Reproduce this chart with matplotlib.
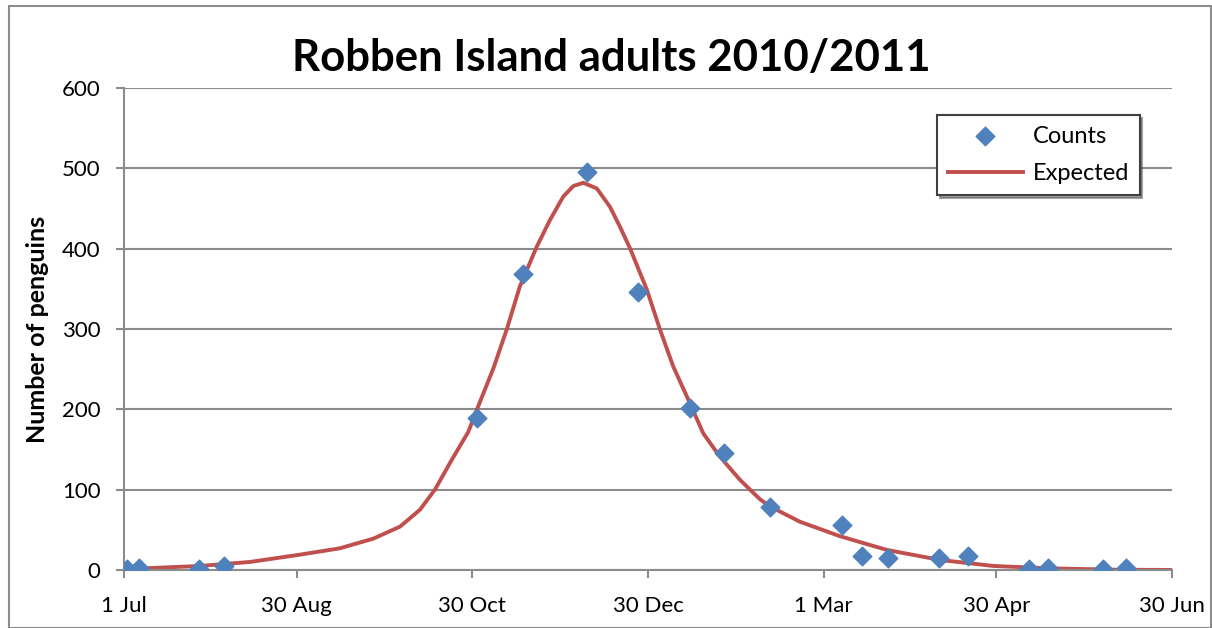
import numpy as np
import matplotlib
matplotlib.use('Agg')
import matplotlib.pyplot as plt
from matplotlib.patches import Rectangle

plt.rcParams['font.family'] = ['Lato', 'DejaVu Sans']

# day of season, counted from 1 Jul 2010
count_day = [0.9, 5.2, 26, 34.8, 122.7, 138.7, 160.7, 178.6, 196.6, 208.4,
             224.4, 249.3, 256.5, 265.5, 283.2, 293.3, 314.3, 321, 340.2, 348]
counts = [1, 3, 1, 5, 189, 369, 496, 346, 202, 146,
          79, 56, 17, 15, 15, 17, 1, 3, 1, 2]

# expected curve
exp_day = [0, 6.7, 26.4, 43.8, 61, 75, 86.6, 95.9, 102.8, 108, 113.5,
           119.6, 122.5, 128.3, 132.9, 137.5, 143.3, 148, 152.6, 156.1,
           159.5, 164.2, 168.8, 172.3, 175.8, 181.6, 186.2, 190.8, 196,
           201.2, 207, 214, 220.9, 224.4, 234.8, 248.7, 264.9, 283.4, 302,
           321.6, 344.8, 364]
expected = [1, 2, 5, 10, 19, 27, 39, 54, 75, 100, 135,
            172, 199, 251, 299, 353, 402, 436, 465, 478,
            482, 475, 452, 427, 400, 349, 299, 253, 212,
            170, 141, 112, 88, 79, 60, 42, 25, 12.5, 5,
            2, 0.3, 0]

tick_days = [0, 60, 121, 182, 243, 303, 364]
tick_labels = ['1 Jul', '30 Aug', '30 Oct', '30 Dec', '1 Mar', '30 Apr', '30 Jun']

fig = plt.figure(figsize=(12.12, 6.28), dpi=100)
ax = fig.add_axes([0.1023, 0.0924, 0.8647, 0.7675])

# outer chart border
fig.patches.append(Rectangle((9/1212, 0), 1 - 10/1212, 1 - 6/628, transform=fig.transFigure,
                             fill=False, edgecolor='#8c8c8c', linewidth=1.5))

ax.plot(exp_day, expected, color='#c0504d', linewidth=2.8, label='Expected', zorder=2,
        solid_joinstyle='round')
ax.scatter(count_day, counts, marker='D', s=90, color='#4f81bd', label='Counts', zorder=3)

ax.set_xlim(0, 364)
ax.set_ylim(0, 600)
ax.set_xticks(tick_days)
ax.set_xticklabels(tick_labels)
ax.set_yticks(range(0, 601, 100))
ax.yaxis.grid(True, color='#8c8c8c', linewidth=1.5)
ax.set_axisbelow(True)
for s in ['top', 'right']:
    ax.spines[s].set_visible(False)
for s in ['left', 'bottom']:
    ax.spines[s].set_color('#8c8c8c')
    ax.spines[s].set_linewidth(1.5)
ax.tick_params(axis='both', colors='#8c8c8c', length=6, width=1.5, labelsize=16,
               labelcolor='black')
ax.tick_params(axis='x', pad=13)
ax.tick_params(axis='y', pad=11)

ax.set_ylabel('Number of penguins', fontsize=18, fontweight='bold')
ax.yaxis.set_label_coords(-0.0715, 0.5)
fig.text(0.504, 0.908, 'Robben Island adults 2010/2011', fontsize=31.5,
         fontweight='bold', ha='center', va='center')

handles, labels = ax.get_legend_handles_labels()
leg = ax.legend(handles[::-1], labels[::-1], loc='upper right',
                bbox_to_anchor=(0.969, 0.944), fontsize=17, frameon=True,
                fancybox=False, shadow=True, borderpad=0.45, handlelength=3.2,
                handletextpad=0.4, borderaxespad=0, labelspacing=0.7)
leg.get_frame().set_edgecolor('#404040')
leg.get_frame().set_linewidth(1.5)

fig.savefig('out.png', dpi=100)
